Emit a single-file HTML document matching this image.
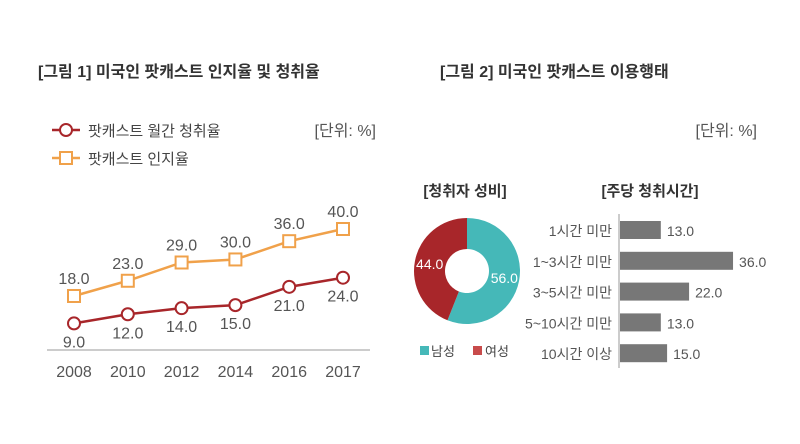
<!DOCTYPE html>
<html><head><meta charset="utf-8"><style>
body{margin:0;width:800px;height:439px;background:#fff;overflow:hidden;font-family:"Liberation Sans","Noto Sans CJK KR",sans-serif;}
svg text{font-family:"Liberation Sans","Noto Sans CJK KR",sans-serif;}
</style></head><body>
<svg width="800" height="439">
<text x="38" y="77" font-size="16" font-weight="bold" fill="#333">[그림 1] 미국인 팟캐스트 인지율 및 청취율</text>
<text x="440" y="77" font-size="16" font-weight="bold" fill="#333">[그림 2] 미국인 팟캐스트 이용행태</text>
<g><line x1="52" y1="130" x2="80" y2="130" stroke="#a8262a" stroke-width="2.5"/><circle cx="66" cy="130" r="6" fill="#fff" stroke="#a8262a" stroke-width="2"/><text x="88" y="136" font-size="15" fill="#444">팟캐스트 월간 청취율</text></g>
<g><line x1="52" y1="158" x2="80" y2="158" stroke="#f0a14a" stroke-width="2.5"/><rect x="60" y="152" width="12" height="12" fill="#fff" stroke="#f0a14a" stroke-width="2"/><text x="88" y="164" font-size="15" fill="#444">팟캐스트 인지율</text></g>
<text x="376" y="136" font-size="16" fill="#555" text-anchor="end">[단위: %]</text>
<text x="757" y="136" font-size="16" fill="#555" text-anchor="end">[단위: %]</text>
<line x1="47" y1="350" x2="370" y2="350" stroke="#bbb" stroke-width="1.5"/>
<g id="line"></g>
<text x="465" y="196" font-size="15" font-weight="bold" fill="#333" text-anchor="middle">[청취자 성비]</text>
<text x="650" y="196" font-size="15" font-weight="bold" fill="#333" text-anchor="middle">[주당 청취시간]</text>
<g id="donut"></g>
<g><rect x="420" y="346" width="9" height="9" fill="#45b8b8"/><text x="431" y="356" font-size="13" fill="#444">남성</text><rect x="473" y="346" width="9" height="9" fill="#c84b4b"/><text x="485" y="356" font-size="13" fill="#444">여성</text></g>
<line x1="619" y1="214" x2="619" y2="368" stroke="#bbb" stroke-width="1.5"/>
<g id="bars"></g>
</svg>
<script>
const years=["2008","2010","2012","2014","2016","2017"];
const listenRate=[9,12,14,15,21,24];
const awareRate=[18,23,29,30,36,40];
const genderLabels=["남성","여성"];
const genderValues=[56,44];
const hourLabels=["1시간 미만","1~3시간 미만","3~5시간 미만","5~10시간 미만","10시간 이상"];
const hourValues=[13,36,22,13,15];
const NS="http://www.w3.org/2000/svg";
function mk(t,a,p){const e=document.createElementNS(NS,t);for(const k in a)e.setAttribute(k,a[k]);p.appendChild(e);return e;}
const xs=i=>74+i*53.8, ys=v=>350.8-v*3.045;
const lg=document.getElementById('line');
function series(vals,col,shape,labAbove,nm){
  const pts=vals.map((v,i)=>xs(i)+','+ys(v)).join(' ');
  const pl=mk('polyline',{points:pts,fill:'none',stroke:col,'stroke-width':2.5},lg);
  
  
  vals.forEach((v,i)=>{
    let m;
    if(shape==='c')m=mk('circle',{cx:xs(i),cy:ys(v),r:6,fill:'#fff',stroke:col,'stroke-width':2},lg);
    else m=mk('rect',{x:xs(i)-6,y:ys(v)-6,width:12,height:12,fill:'#fff',stroke:col,'stroke-width':2},lg);
    
    
    const t=mk('text',{x:xs(i),y:labAbove?ys(v)-12:ys(v)+24,'font-size':16,fill:'#555','text-anchor':'middle'},lg);
    t.textContent=v.toFixed(1);
    
    
  });
}
series(awareRate,'#f0a14a','s',true,'awareness');
series(listenRate,'#a8262a','c',false,'listening');
years.forEach((y,i)=>{const t=mk('text',{x:xs(i),y:377,'font-size':16,fill:'#555','text-anchor':'middle'},lg);t.textContent=y;

});
const dg=document.getElementById('donut');const cx=467,cy=271,R=53,r=22;const tot=genderValues.reduce((a,b)=>a+b,0);
const cols=['#45b8b8','#a8262a'];let a0=-Math.PI/2;
genderValues.forEach((v,i)=>{const a1=a0+v/tot*2*Math.PI;const lf=(a1-a0)>Math.PI?1:0;
const P=(rad,a)=>[cx+rad*Math.cos(a),cy+rad*Math.sin(a)];
const [x1,y1]=P(R,a0),[x2,y2]=P(R,a1),[x3,y3]=P(r,a1),[x4,y4]=P(r,a0);
const p=mk('path',{d:`M${x1},${y1}A${R},${R} 0 ${lf} 1 ${x2},${y2}L${x3},${y3}A${r},${r} 0 ${lf} 0 ${x4},${y4}Z`,fill:cols[i]},dg);


const am=(a0+a1)/2;const [lx,ly]=P(38,am);
const t=mk('text',{x:lx,y:ly+5,'font-size':14,fill:'#fff','text-anchor':'middle'},dg);t.textContent=v.toFixed(1);


a0=a1;});
const bg=document.getElementById('bars');
hourValues.forEach((v,i)=>{const y=221+i*30.8;const w=v*3.14;
const b=mk('rect',{x:620,y:y,width:w,height:18,fill:'#777'},bg);


const t=mk('text',{x:626+w,y:y+15,'font-size':14,fill:'#555'},bg);t.textContent=v.toFixed(1);


const c=mk('text',{x:612,y:y+15,'font-size':14,fill:'#555','text-anchor':'end'},bg);c.textContent=hourLabels[i];

});
</script>
</body></html>
